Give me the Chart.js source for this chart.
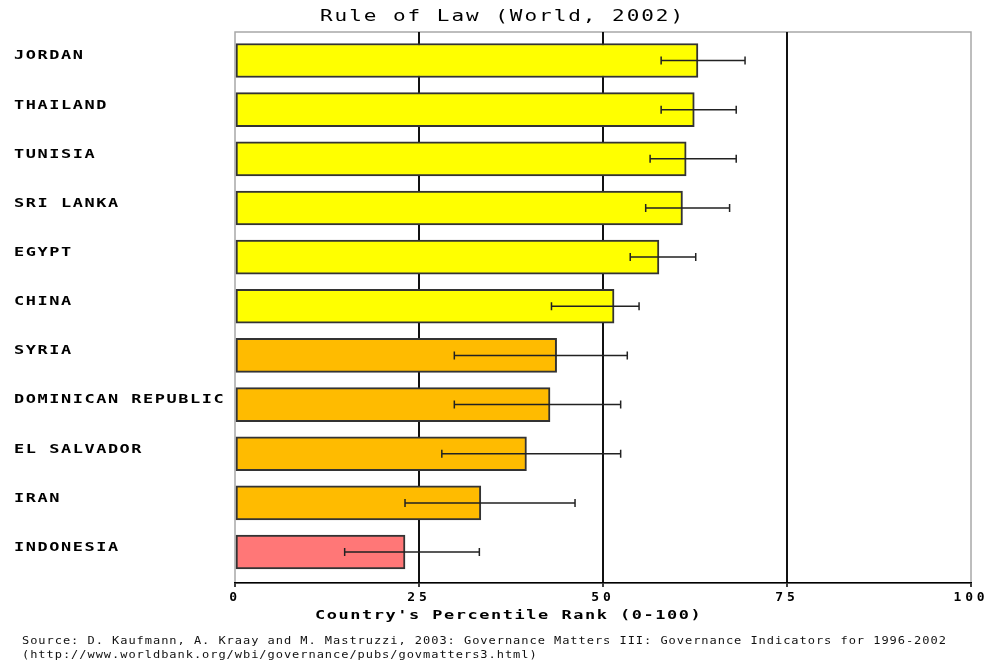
<!DOCTYPE html>
<html>
<head>
<meta charset="utf-8">
<title>Rule of Law (World, 2002)</title>
<script src="https://cdn.jsdelivr.net/npm/chart.js@4"></script>
<style>
  html, body { margin: 0; padding: 0; background: #fff; }
  #wrap { position: relative; width: 990px; height: 663px; overflow: hidden; }
  #chart { position: absolute; left: 0; top: 0; }
  .txt { position: absolute; white-space: nowrap; font-family: 'DejaVu Sans Mono', monospace; color: #000; transform-origin: 0 0; }
  #title { left: 320px; top: 9px; font-size: 15px; line-height: 15px; letter-spacing: 1.4px; transform: scaleX(1.4); }
  #xtitle { left: 315px; top: 608px; font-size: 13px; line-height: 13px; font-weight: bold; letter-spacing: 1.2px; transform: scaleX(1.3); }
  #source { left: 22px; top: 634px; font-size: 10px; line-height: 14px; letter-spacing: 0.8px; transform: scaleX(1.2); color: #111; }
</style>
</head>
<body>
<div id="wrap">
  <canvas id="chart" width="990" height="663"></canvas>
  <div class="txt" id="title">Rule of Law (World, 2002)</div>
  <div class="txt" id="xtitle">Country's Percentile Rank (0-100)</div>
  <div class="txt" id="source">Source: D. Kaufmann, A. Kraay and M. Mastruzzi, 2003: Governance Matters III: Governance Indicators for 1996-2002<br>(http://www.worldbank.org/wbi/governance/pubs/govmatters3.html)</div>
</div>
<script>
// Percentile rank per country, with the lower / upper ends of the confidence range
const countries = ['JORDAN', 'THAILAND', 'TUNISIA', 'SRI LANKA', 'EGYPT', 'CHINA',
                   'SYRIA', 'DOMINICAN REPUBLIC', 'EL SALVADOR', 'IRAN', 'INDONESIA'];
const rank  = [62.9, 62.4, 61.3, 60.8, 57.6, 51.5, 43.7, 42.8, 39.6, 33.4, 23.1];
const lower = [57.9, 57.9, 56.4, 55.8, 53.7, 43.0, 29.8, 29.8, 28.1, 23.1, 14.9];
const upper = [69.3, 68.1, 68.1, 67.2, 62.6, 54.9, 53.3, 52.4, 52.4, 46.2, 33.2];
const xTicks = [0, 25, 50, 75, 100];

// percentile bands: 50+ yellow, 25-50 orange, below 25 red
function bandColor(v) {
  return v >= 50 ? '#ffff00' : (v >= 25 ? '#ffbb00' : '#ff7777');
}

const FONT = { family: "'DejaVu Sans Mono', monospace", size: 13, weight: 'bold' };

// draw a scale's labels with extra letter spacing and, optionally, stretched wide from its left edge
function widenLabels(scale, spacing, stretch) {
  if (scale._widened) return;
  const base = scale.drawLabels.bind(scale);
  scale.drawLabels = function (area) {
    const ctx = this.ctx;
    ctx.save();
    ctx.letterSpacing = spacing;
    if (stretch !== 1) {
      ctx.translate(this.left, 0);
      ctx.scale(stretch, 1);
      ctx.translate(-this.left, 0);
    }
    base(area);
    ctx.restore();
  };
  scale._widened = true;
}

// light grey frame round the plot area
const frame = {
  id: 'frame',
  beforeDraw(chart) {
    const { ctx, chartArea: a } = chart;
    ctx.save();
    ctx.strokeStyle = '#a8a8a8';
    ctx.lineWidth = 1.5;
    ctx.strokeRect(a.left, a.top, a.right - a.left, a.bottom - a.top);
    ctx.restore();
  }
};

// whiskers with end caps for the confidence range
const whiskers = {
  id: 'whiskers',
  afterDatasetsDraw(chart) {
    const { ctx } = chart;
    const xs = chart.scales.x;
    const meta = chart.getDatasetMeta(0);
    ctx.save();
    ctx.strokeStyle = '#222';
    ctx.lineWidth = 1.5;
    meta.data.forEach((bar, i) => {
      const y = bar.y;
      const x1 = xs.getPixelForValue(lower[i]);
      const x2 = xs.getPixelForValue(upper[i]);
      ctx.beginPath();
      ctx.moveTo(x1, y); ctx.lineTo(x2, y);
      ctx.moveTo(x1, y - 4); ctx.lineTo(x1, y + 4);
      ctx.moveTo(x2, y - 4); ctx.lineTo(x2, y + 4);
      ctx.stroke();
    });
    ctx.restore();
  }
};

new Chart(document.getElementById('chart'), {
  type: 'bar',
  data: {
    datasets: [{
      data: rank.map((v, i) => ({ x: v, y: i })),
      backgroundColor: rank.map(bandColor),
      borderColor: '#333',
      borderWidth: 2,
      borderSkipped: false,
      barThickness: 34
    }]
  },
  options: {
    indexAxis: 'y',
    responsive: false,
    devicePixelRatio: 1,
    animation: false,
    layout: { padding: { left: 14, right: 19, top: 32, bottom: 0 } },
    plugins: { legend: { display: false }, tooltip: { enabled: false }, title: { display: false } },
    scales: {
      x: {
        type: 'linear',
        position: 'bottom',
        min: 0, max: 100,
        afterBuildTicks(s) { s.ticks = xTicks.map(v => ({ value: v })); },
        ticks: { color: '#000', font: FONT, padding: 3, maxRotation: 0 },
        grid: {
          color: c => (c.tick && (c.tick.value === 0 || c.tick.value === 100)) ? 'rgba(0,0,0,0)' : '#111',
          lineWidth: 2,
          tickLength: 4,
          tickColor: '#000',
          tickWidth: 1.5
        },
        border: { color: '#000', width: 1.5 },
        afterFit(s) { s.height = 80; widenLabels(s, '3.9px', 1); }
      },
      y: {
        type: 'linear',
        reverse: true,
        offset: false,
        min: -0.58, max: 10.63,
        afterBuildTicks(s) { s.ticks = countries.map((_, i) => ({ value: i })); },
        ticks: {
          callback: v => countries[v],
          color: '#000',
          font: FONT,
          crossAlign: 'far',
          labelOffset: -4.5,
          padding: 0,
          autoSkip: false
        },
        grid: { display: false },
        border: { display: false },
        afterFit(s) { s.width = 221; widenLabels(s, '1.2px', 1.3); }
      }
    }
  },
  plugins: [frame, whiskers]
});
</script>
</body>
</html>
